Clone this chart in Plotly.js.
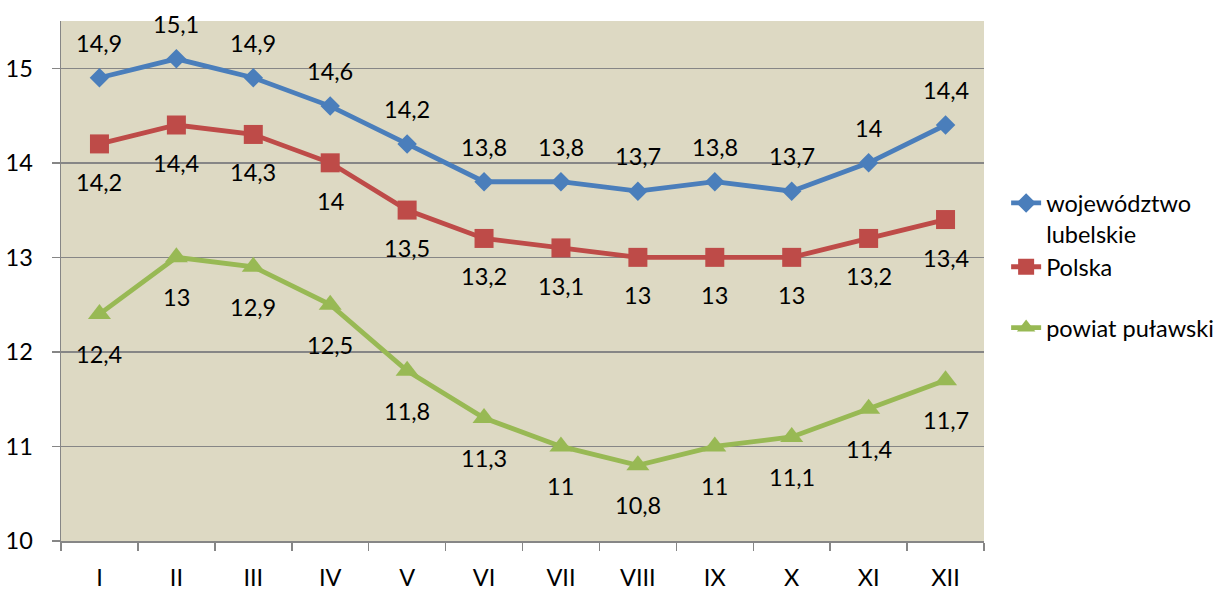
<!DOCTYPE html>
<html>
<head>
<meta charset="utf-8">
<script src="https://cdn.plot.ly/plotly-3.0.1.min.js"></script>
<style>html,body{margin:0;padding:0;background:#fff;}#chart{width:1224px;height:592px;}</style>
</head>
<body>
<div id="chart"></div>
<script>
const months = ['I','II','III','IV','V','VI','VII','VIII','IX','X','XI','XII'];
const lubelskie = [14.9,15.1,14.9,14.6,14.2,13.8,13.8,13.7,13.8,13.7,14,14.4];
const polska = [14.2,14.4,14.3,14,13.5,13.2,13.1,13,13,13,13.2,13.4];
const pulawski = [12.4,13,12.9,12.5,11.8,11.3,11,10.8,11,11.1,11.4,11.7];
const seriesNames = ['województwo<br>lubelskie','Polska','powiat puławski'];

const FONT = 'Lato, "Open Sans", sans-serif';
const FS = 23.5;
const colors = ['#4A7EBB','#BE4B48','#98B954'];
const symbols = ['diamond','square','triangle-up'];
const sizes = [15,19,20];
const shifts = [35,-38,-40];
const legends = ['legend','legend2','legend3'];
const allSeries = [lubelskie, polska, pulawski];

const traces = allSeries.map((vals,i)=>({
  type:'scatter', mode:'lines+markers',
  x: months, y: vals, name: seriesNames[i],
  line:{color:colors[i], width:4.8},
  marker:{symbol:symbols[i], size:sizes[i], color:colors[i]},
  legend: legends[i],
  hoverinfo:'skip'
}));

const fmt = v => String(v).replace('.', ',');
const annotations = [];
allSeries.forEach((vals,i)=>{
  vals.forEach((v,j)=>{
    annotations.push({x:months[j], y:v, text:fmt(v), showarrow:false,
      yshift:shifts[i], font:{family:FONT, size:FS, color:'#000'}});
  });
});

const legendBase = {xref:'container', xanchor:'left', x:0.822, bgcolor:'rgba(0,0,0,0)',
  font:{family:FONT, size:FS, color:'#000'}, borderwidth:0};

const layout = {
  width:1224, height:592,
  margin:{l:61, r:240, t:21, b:51},
  paper_bgcolor:'#ffffff', plot_bgcolor:'#DDD9C3',
  font:{family:FONT, size:FS, color:'#000'},
  showlegend:true,
  legend: Object.assign({}, legendBase, {y:0.62, yanchor:'middle', valign:'top'}),
  legend2: Object.assign({}, legendBase, {y:0.527, yanchor:'middle'}),
  legend3: Object.assign({}, legendBase, {y:0.410, yanchor:'middle'}),
  xaxis:{type:'category', range:[-0.5,11.5], tickson:'boundaries', ticks:'outside', ticklen:8, tickcolor:'#868686', tickwidth:1.5,
    showline:true, linecolor:'#868686', linewidth:1.5, showgrid:false, zeroline:false,
    tickfont:{family:FONT, size:FS, color:'#000'}, ticklabelstandoff:15, fixedrange:true},
  yaxis:{range:[10,15.5], dtick:1, tick0:10, ticks:'outside', ticklen:8, tickcolor:'#868686', tickwidth:1.5,
    showline:true, linecolor:'#868686', linewidth:1.5, showgrid:true, gridcolor:'#868686', gridwidth:1.5,
    zeroline:false, tickfont:{family:FONT, size:FS, color:'#000'}, ticklabelstandoff:14, fixedrange:true},
  annotations: annotations
};

Plotly.newPlot('chart', traces, layout, {displayModeBar:false, staticPlot:true});
</script>
</body>
</html>
